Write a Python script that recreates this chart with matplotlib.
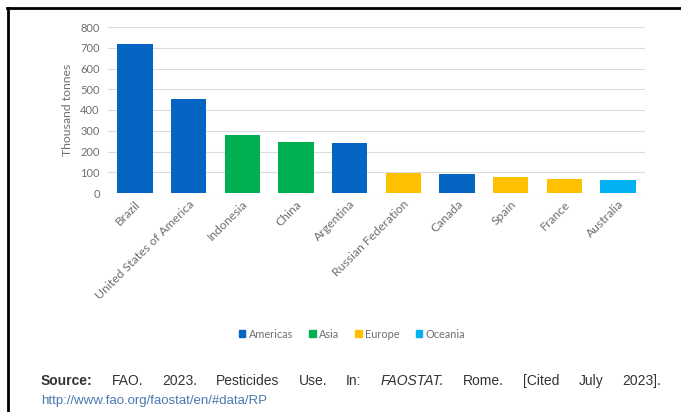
import matplotlib
matplotlib.use("Agg")
import matplotlib.pyplot as plt
from matplotlib.lines import Line2D
from matplotlib.patches import Patch

# data
countries = ["Brazil", "United States of America", "Indonesia", "China", "Argentina",
             "Russian Federation", "Canada", "Spain", "France", "Australia"]
values = [718, 455, 281, 244, 240, 95, 90, 75, 67, 61]
regions = ["Americas", "Americas", "Asia", "Asia", "Americas",
           "Europe", "Americas", "Europe", "Europe", "Oceania"]
region_order = ["Americas", "Asia", "Europe", "Oceania"]
region_colors = {"Americas": "#0565C2", "Asia": "#00B050",
                 "Europe": "#FFC000", "Oceania": "#00B0F0"}
yticks = [0, 100, 200, 300, 400, 500, 600, 700, 800]

source_words = ["Source:", "FAO.", "2023.", "Pesticides", "Use.", "In:", "FAOSTAT.",
                "Rome.", "[Cited", "July", "2023]."]
link = "http://www.fao.org/faostat/en/#data/RP"

W, H = 681, 412
fig = plt.figure(figsize=(W / 100, H / 100), dpi=100)
ax = fig.add_axes([108 / W, 1 - 193 / H, (645 - 108) / W, (193 - 27) / H])

gray = "#6f6f6f"
chart_font = "Lato"

x = range(len(countries))
ax.bar(x, values, width=0.66, color=[region_colors[r] for r in regions], zorder=3)

ax.set_xlim(-0.5, len(countries) - 0.5)
ax.set_ylim(0, 800)
ax.set_yticks(yticks)
ax.set_yticklabels([str(t) for t in yticks], fontsize=8, color=gray, family=chart_font)
ax.set_xticks(list(x))
ax.set_xticklabels(countries, rotation=45, ha="right", rotation_mode="anchor",
                   fontsize=8.8, color=gray, family=chart_font)
ax.tick_params(length=0, pad=6)
ax.tick_params(axis="x", pad=4)
ax.grid(axis="y", color="#dcdcdc", linewidth=0.8, zorder=0)
for s in ax.spines.values():
    s.set_visible(False)
ax.set_ylabel("Thousand tonnes", fontsize=8.8, color=gray, family=chart_font, labelpad=5)

handles = [Patch(color=region_colors[r], label=r) for r in region_order]
leg = fig.legend(handles=handles, loc="center", bbox_to_anchor=(352 / W, 1 - 334 / H),
                 ncol=4, frameon=False, fontsize=7.8, handlelength=0.6, handleheight=0.6,
                 handletextpad=0.3, columnspacing=1.5)
for t in leg.get_texts():
    t.set_color(gray)
    t.set_family(chart_font)

# justified source line
src_font = ["Liberation Sans Narrow", "Liberation Sans"]
renderer = fig.canvas.get_renderer()
y_src = 1 - 381 / H
texts = []
for i, w in enumerate(source_words):
    t = fig.text(0, y_src, w, fontsize=10, color="#333333", family=src_font, va="center",
                 fontweight="bold" if i == 0 else "normal",
                 fontstyle="italic" if w == "FAOSTAT." else "normal")
    texts.append(t)
widths = [t.get_window_extent(renderer).width for t in texts]
x0, x1 = 41, 661
gap = (x1 - x0 - sum(widths)) / (len(texts) - 1)
xp = x0
for t, wd in zip(texts, widths):
    t.set_x(xp / W)
    xp += wd + gap
fig.text(41 / W, 1 - 401 / H, link, fontsize=9.5, color="#4a78b0", family=src_font,
         va="center")

# page frame (left and top edges)
fig.add_artist(Line2D([8 / W, 8 / W], [0, 1 - 8 / H], color="black", linewidth=2,
                      transform=fig.transFigure))
fig.add_artist(Line2D([7 / W, 1], [1 - 8 / H, 1 - 8 / H], color="black", linewidth=2,
                      transform=fig.transFigure))

fig.savefig("out.png", dpi=100)
